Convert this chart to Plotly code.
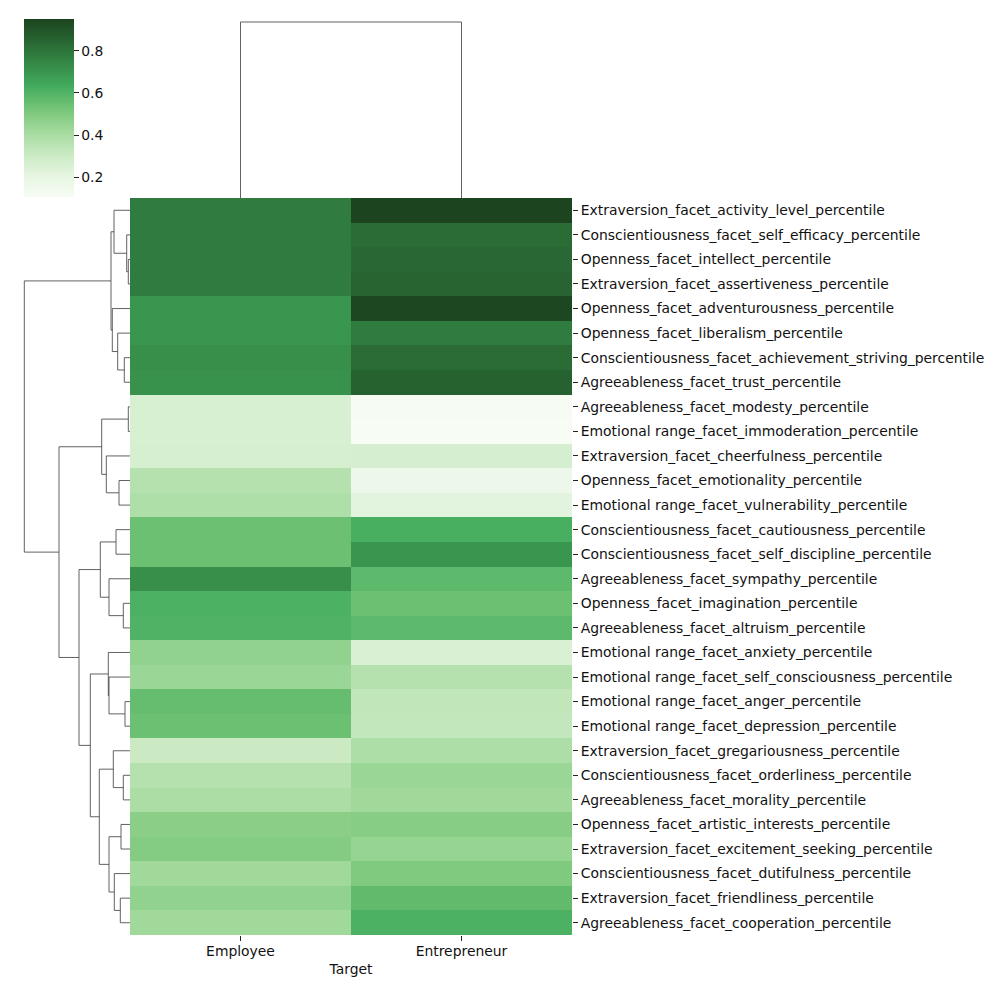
import plotly.graph_objects as go

# the page puts the figure 8px in from the top-left corner
OFF = 8
W, H = 994 - OFF, 986 - OFF
FONT = "DejaVu Sans"


def px(x):
    return (x - OFF) / W


def py(y):
    return 1 - (y - OFF) / H


columns = ["Employee", "Entrepreneur"]

rows = [
    "Extraversion_facet_activity_level_percentile",
    "Conscientiousness_facet_self_efficacy_percentile",
    "Openness_facet_intellect_percentile",
    "Extraversion_facet_assertiveness_percentile",
    "Openness_facet_adventurousness_percentile",
    "Openness_facet_liberalism_percentile",
    "Conscientiousness_facet_achievement_striving_percentile",
    "Agreeableness_facet_trust_percentile",
    "Agreeableness_facet_modesty_percentile",
    "Emotional range_facet_immoderation_percentile",
    "Extraversion_facet_cheerfulness_percentile",
    "Openness_facet_emotionality_percentile",
    "Emotional range_facet_vulnerability_percentile",
    "Conscientiousness_facet_cautiousness_percentile",
    "Conscientiousness_facet_self_discipline_percentile",
    "Agreeableness_facet_sympathy_percentile",
    "Openness_facet_imagination_percentile",
    "Agreeableness_facet_altruism_percentile",
    "Emotional range_facet_anxiety_percentile",
    "Emotional range_facet_self_consciousness_percentile",
    "Emotional range_facet_anger_percentile",
    "Emotional range_facet_depression_percentile",
    "Extraversion_facet_gregariousness_percentile",
    "Conscientiousness_facet_orderliness_percentile",
    "Agreeableness_facet_morality_percentile",
    "Openness_facet_artistic_interests_percentile",
    "Extraversion_facet_excitement_seeking_percentile",
    "Conscientiousness_facet_dutifulness_percentile",
    "Extraversion_facet_friendliness_percentile",
    "Agreeableness_facet_cooperation_percentile",
]

employee = [0.78, 0.78, 0.78, 0.78, 0.70, 0.70, 0.72, 0.71, 0.26, 0.26,
            0.265, 0.37, 0.385, 0.545, 0.545, 0.72, 0.61, 0.605, 0.46, 0.44,
            0.558, 0.545, 0.305, 0.37, 0.395, 0.478, 0.49, 0.425, 0.46, 0.425]
entrepreneur = [0.95, 0.83, 0.84, 0.85, 0.94, 0.78, 0.83, 0.86, 0.11, 0.107,
                0.27, 0.16, 0.22, 0.62, 0.70, 0.575, 0.545, 0.575, 0.255, 0.37,
                0.335, 0.33, 0.39, 0.44, 0.425, 0.485, 0.45, 0.5, 0.565, 0.61]

# row linkage (scipy style, leaves 0..29 in display order, new clusters 30+)
row_links = [
    (2, 3, 1.7), (1, 30, 3.3), (0, 31, 16.0),
    (6, 7, 5.7), (5, 33, 12.3), (4, 34, 17.7), (32, 35, 19.0),
    (8, 9, 1.7), (11, 12, 11.0), (10, 38, 23.7), (37, 39, 28.3),
    (13, 14, 14.0), (16, 17, 6.7), (15, 42, 21.0), (41, 43, 29.7),
    (20, 21, 5.0), (19, 45, 21.0), (18, 46, 21.7),
    (23, 24, 6.7), (22, 48, 16.7),
    (25, 26, 9.0), (28, 29, 9.7), (27, 51, 15.7), (50, 52, 21.0),
    (49, 53, 30.7), (47, 54, 39.7), (44, 55, 51.0), (40, 56, 71.0),
    (36, 57, 105.7),
]
col_links = [(0, 1, 1.0)]

# Greens, with the darker end a bit duller as in the picture
cscale = [
    [0.0, "#f7fcf5"], [0.125, "#e5f5e0"], [0.25, "#c7e9c0"], [0.375, "#a1d99b"],
    [0.5, "#74c476"], [0.625, "#41ab5d"], [0.75, "#358946"], [0.875, "#286633"],
    [1.0, "#1c441e"],
]


def dendro_lines(links, n):
    pos = {i: float(i) for i in range(n)}
    hgt = {i: 0.0 for i in range(n)}
    p, h = [], []
    for k, (a, b, d) in enumerate(links):
        p += [pos[a], pos[a], pos[b], pos[b], None]
        h += [hgt[a], d, d, hgt[b], None]
        pos[n + k] = (pos[a] + pos[b]) / 2
        hgt[n + k] = d
    return p, h


z = [[e, n] for e, n in zip(employee, entrepreneur)]
allv = employee + entrepreneur

fig = go.Figure()
fig.add_trace(go.Heatmap(
    z=z, x=[0, 1], y=list(range(len(rows))),
    colorscale=cscale, zmin=min(allv), zmax=max(allv),
    colorbar=dict(x=px(24), xanchor="left", y=py(19), yanchor="top",
                  len=178 / H, lenmode="fraction", thickness=50, xpad=0, ypad=0,
                  outlinewidth=0, ticks="outside", ticklen=5, tickcolor="#222",
                  tickvals=[0.2, 0.4, 0.6, 0.8], tickfont=dict(size=13.9, color="#111")),
))

ry, rx = dendro_lines(row_links, len(rows))
fig.add_trace(go.Scatter(x=rx, y=ry, mode="lines", xaxis="x2", yaxis="y",
                         line=dict(color="#3a3a3a", width=0.8), hoverinfo="skip",
                         showlegend=False))

cx, cy = dendro_lines(col_links, len(columns))
fig.add_trace(go.Scatter(x=cx, y=cy, mode="lines", xaxis="x", yaxis="y3",
                         line=dict(color="#3a3a3a", width=0.8), hoverinfo="skip",
                         showlegend=False))

root_h = row_links[-1][2]
fig.update_layout(
    width=W, height=H,
    margin=dict(l=0, r=0, t=0, b=0),
    paper_bgcolor="white", plot_bgcolor="white",
    font=dict(family=FONT, size=13.9, color="#111"),
    xaxis=dict(domain=[px(130), px(572)], range=[-0.5, 1.5], anchor="y",
               tickvals=[0, 1], ticktext=columns, ticks="outside", ticklen=5,
               tickcolor="#222", showgrid=False, zeroline=False, ticklabelstandoff=-2,
               title=dict(text="Target", standoff=6, font=dict(size=13.9))),
    yaxis=dict(domain=[py(935), py(198)], range=[len(rows) - 0.5, -0.5],
               anchor="x", side="right", tickvals=list(range(len(rows))), ticktext=rows,
               ticks="outside", ticklen=5, tickcolor="#222", showgrid=False, zeroline=False),
    xaxis2=dict(domain=[0, px(130)], range=[root_h * (130 - OFF) / 105.7, 0], anchor="y",
                visible=False),
    yaxis3=dict(domain=[py(198), 1], range=[0, col_links[0][2] * (198 - OFF) / 176],
                anchor="x", visible=False),
)

fig.write_html("out.html")
